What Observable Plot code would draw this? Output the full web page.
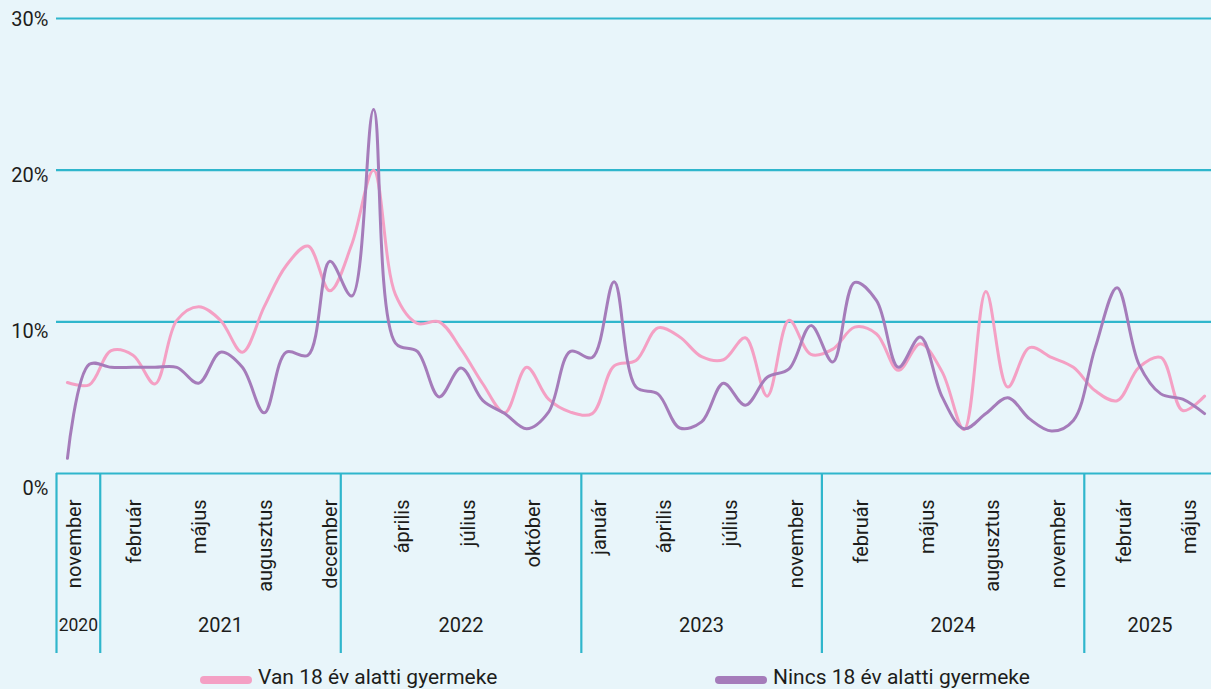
<!DOCTYPE html>
<html>
<head>
<meta charset="utf-8">
<script src="https://cdn.jsdelivr.net/npm/d3@7"></script>
<script src="https://cdn.jsdelivr.net/npm/@observablehq/plot@0.6"></script>
<style>
  html, body { margin: 0; padding: 0; background: #e8f5fa; overflow: hidden; width: 1211px; height: 689px; }
  #chart svg { display: block; max-width: none; }
  .legend { position: relative; height: 29px; font-family: Roboto, sans-serif; font-size: 21px; color: #1d1d1b; }
  .item { position: absolute; top: 5px; display: flex; align-items: center; white-space: nowrap; line-height: 24px; }
  .sw { width: 52px; height: 8px; border-radius: 4px; margin-right: 6px; position: relative; top: 3px; }
</style>
</head>
<body>
<div id="chart"></div>
<div class="legend" id="legend"></div>
<script>
// ---- data ----
const months = [
  "november", "december",
  "január", "február", "március", "április", "május", "június", "július", "augusztus", "szeptember", "október", "december",
  "január", "március", "április", "május", "június", "július", "augusztus", "szeptember", "október", "november", "december",
  "január", "február", "március", "április", "május", "június", "július", "szeptember", "október", "november", "december",
  "január", "február", "március", "április", "május", "június", "július", "augusztus", "szeptember", "október", "november", "december",
  "január", "február", "március", "április", "május", "június"
];
const years = [
  "2020", "2020",
  "2021", "2021", "2021", "2021", "2021", "2021", "2021", "2021", "2021", "2021", "2021",
  "2022", "2022", "2022", "2022", "2022", "2022", "2022", "2022", "2022", "2022", "2022",
  "2023", "2023", "2023", "2023", "2023", "2023", "2023", "2023", "2023", "2023", "2023",
  "2024", "2024", "2024", "2024", "2024", "2024", "2024", "2024", "2024", "2024", "2024", "2024",
  "2025", "2025", "2025", "2025", "2025", "2025"
];
const seriesNames = ["Van 18 év alatti gyermeke", "Nincs 18 év alatti gyermeke"];
const van = [6.0, 5.85, 8.1, 7.8, 5.9, 10.1, 11.0, 10.1, 8.0, 11.0, 13.7, 15.0, 12.05,
  15.1, 20.0, 11.8, 9.9, 10.0, 8.2, 5.9, 4.0, 7.0, 4.9, 4.05,
  3.95, 7.1, 7.45, 9.6, 9.0, 7.7, 7.5, 8.95, 5.1, 10.1, 7.85,
  8.2, 9.65, 9.2, 6.8, 8.55, 6.7, 2.9, 12.0, 5.7, 8.3, 7.65, 7.0,
  5.45, 4.8, 7.0, 7.65, 4.15, 5.1];
const nincs = [1.0, 7.2, 7.0, 7.0, 7.0, 7.0, 5.95, 8.0, 7.0, 4.0, 8.0, 7.8, 14.0,
  11.7, 24.0, 8.6, 8.05, 5.05, 6.95, 4.8, 3.95, 2.95, 4.05, 8.05,
  7.65, 12.65, 5.7, 5.25, 3.0, 3.4, 5.95, 4.5, 6.35, 6.9, 9.75,
  7.35, 12.6, 11.4, 7.0, 9.0, 5.05, 2.95, 3.95, 5.0, 3.6, 2.8, 3.5,
  8.3, 12.25, 7.2, 5.25, 4.9, 3.95];
const yTicks = [0, 10, 20, 30];
const labelEvery = 3;

// ---- style ----
const cyan = "#2fb6cc", pink = "#f4a0c4", purple = "#a57cba", ink = "#1d1d1b";
const font = "Roboto, sans-serif";

// ---- derived tables ----
const rows = months.map((m, i) => ({i, month: m, year: years[i], van: van[i], nincs: nincs[i]}));
const groups = d3.groups(rows, d => d.year).map(([year, rs]) => ({
  year, first: rs[0].i, last: rs[rs.length - 1].i, n: rs.length
}));
const boundaries = [groups[0].first - 0.5, ...groups.map(g => g.last + 0.5)];
const tickRows = rows.filter(d => d.i % labelEvery === 0);
const tightYear = "2021"; // month labels in this year sit closer to their tick in the original
const monthLabel = (data, dx) => Plot.text(data, {
  x: "i", y: () => 0, text: "month", rotate: -90, textAnchor: "end", lineAnchor: "bottom",
  dx, dy: 26, fontSize: 20, fill: ink
});

const chart = Plot.plot({
  width: 1215,
  height: 660,
  marginLeft: 56,
  marginRight: 0,
  marginTop: 18,
  marginBottom: 187,
  style: {background: "transparent", fontFamily: font, color: ink, maxWidth: "none", overflow: "visible"},
  x: {type: "linear", domain: [-0.5, rows.length - 0.5], axis: null, label: null},
  y: {domain: [0, 30], axis: null, label: null},
  marks: [
    Plot.ruleY(yTicks, {stroke: cyan, strokeWidth: 2.2}),
    Plot.axisX(boundaries, {tickSize: 180, tickPadding: 0, tickFormat: () => "", stroke: cyan, strokeWidth: 2.2, strokeOpacity: 1, label: null}),
    ...yTicks.map(v => Plot.text([v], {
      y: d => d, text: d => `${d}%`, frameAnchor: "left", textAnchor: "end",
      dx: -8, dy: 0.6 + (30 - v) * 0.48, fontSize: 20, fill: ink
    })),
    monthLabel(tickRows.filter(d => d.year === tightYear), 7.5),
    monthLabel(tickRows.filter(d => d.year !== tightYear), 13.5),
    Plot.text(groups, {
      x: d => (d.first + d.last) / 2, y: () => 0, text: "year",
      dy: 152, fontSize: d => d.n < 3 ? 17.5 : 20, fill: ink
    }),
    Plot.line(rows, {x: "i", y: "van", stroke: pink, strokeWidth: 3, curve: "catmull-rom"}),
    Plot.line(rows, {x: "i", y: "nincs", stroke: purple, strokeWidth: 3, curve: "catmull-rom"})
  ]
});
document.getElementById("chart").append(chart);

// ---- legend ----
const legend = document.getElementById("legend");
const legendItems = [
  {name: seriesNames[0], color: pink, left: 200},
  {name: seriesNames[1], color: purple, left: 715}
];
for (const it of legendItems) {
  const d = document.createElement("div");
  d.className = "item";
  d.style.left = it.left + "px";
  const sw = document.createElement("span");
  sw.className = "sw";
  sw.style.background = it.color;
  const t = document.createElement("span");
  t.textContent = it.name;
  d.append(sw, t);
  legend.append(d);
}
</script>
</body>
</html>
